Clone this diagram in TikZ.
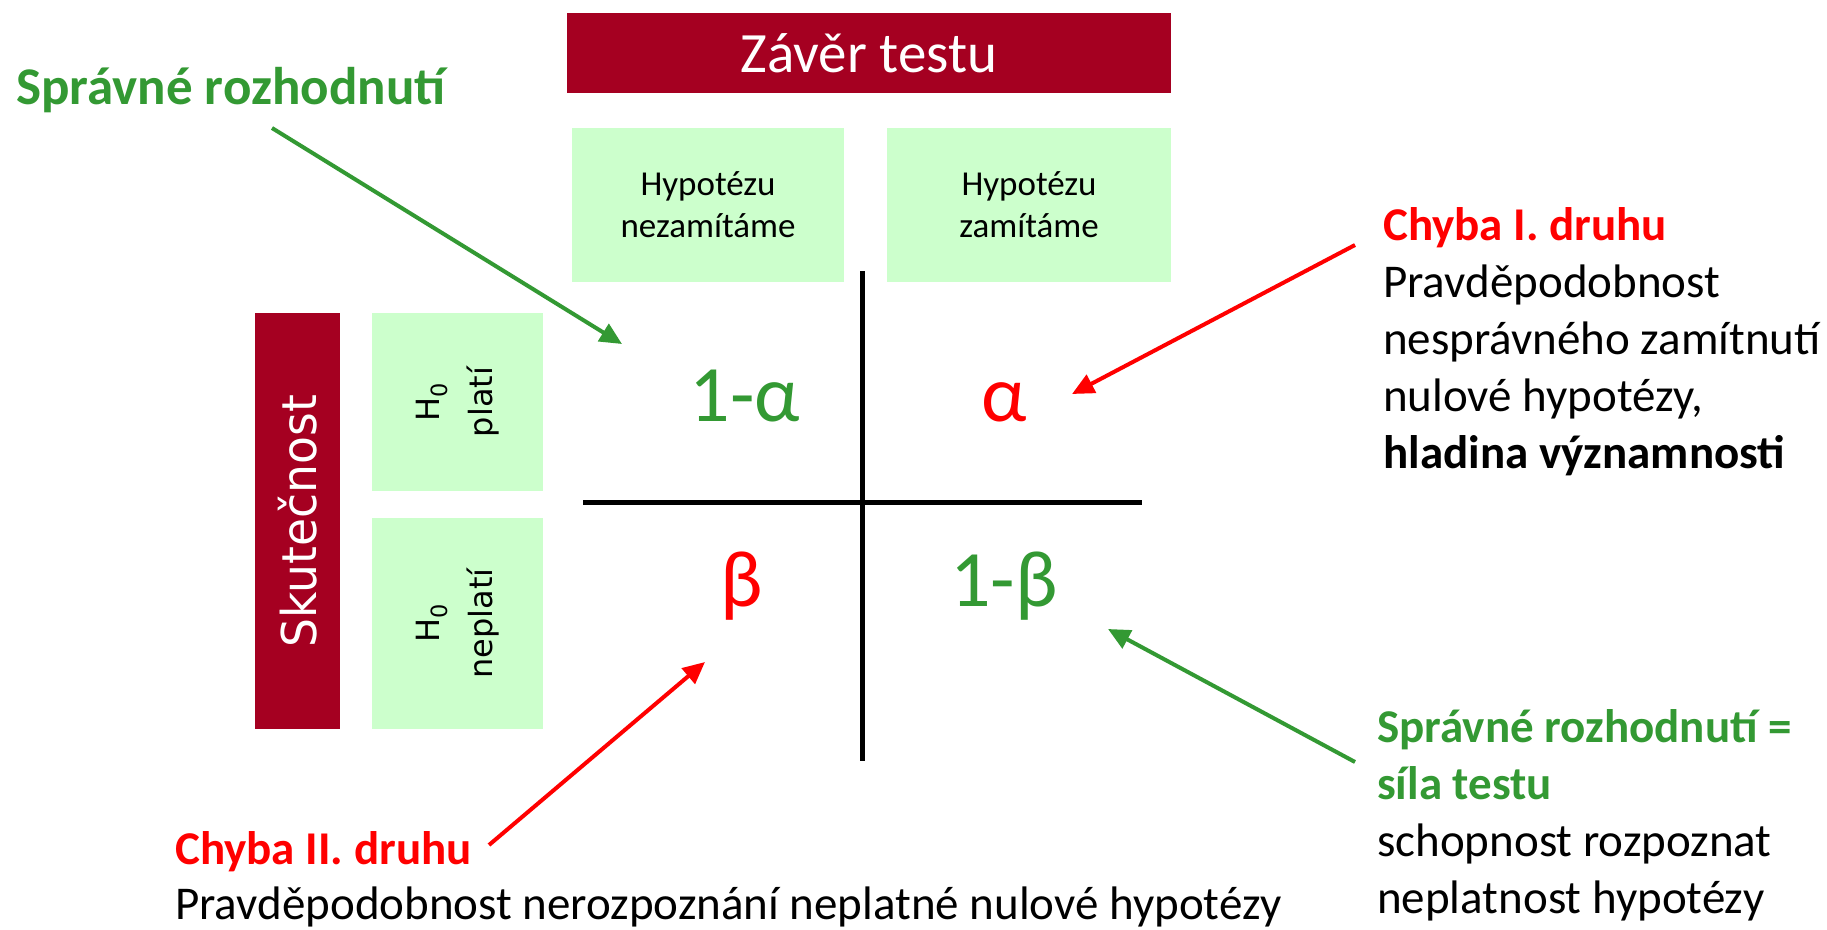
\documentclass[tikz,border=0pt]{standalone}
\usepackage{fontspec}
\setmainfont{Carlito}
\newfontfamily\dejavu{DejaVu Sans}
\usetikzlibrary{arrows.meta}
\definecolor{boxred}{HTML}{A50021}
\definecolor{boxgreen}{HTML}{CCFFCC}
\definecolor{txtgreen}{HTML}{339933}
\definecolor{txtred}{HTML}{FF0000}
\begin{document}
\begin{tikzpicture}[x=1pt,y=-1pt,
  redbox/.style={fill=boxred,text=white,inner sep=0pt,outer sep=0pt},
  greenbox/.style={fill=boxgreen,text=black,inner sep=0pt,outer sep=0pt},
  axis/.style={line width=5pt,black},
  arr/.style={line width=4pt,-{Triangle[length=22pt,width=20pt]}},
  greek/.style={font={\fontsize{80}{96}\selectfont},inner sep=0pt,anchor=base},
  label/.style={inner sep=0pt,align=left,anchor=north west,font={\fontsize{47}{57}\selectfont}}
]
\useasboundingbox[fill=white] (0,0) rectangle (1827,929);

% title
\node[redbox,anchor=north west,minimum width=604pt,minimum height=80pt,
  font={\fontsize{57}{68}\selectfont}] (title) at (567,13) {Závěr testu};
% column headers
\node[greenbox,anchor=north west,minimum width=272pt,minimum height=154pt,align=center,
  font={\fontsize{35}{42}\selectfont}] (nezam) at (572,128) {Hypotézu\\nezamítáme};
\node[greenbox,anchor=north west,minimum width=284pt,minimum height=154pt,align=center,
  font={\fontsize{35}{42}\selectfont}] (zam) at (887,128) {Hypotézu\\zamítáme};
% row headers
\node[redbox,rotate=90,minimum width=416pt,minimum height=85pt,
  font={\dejavu\fontsize{48}{58}\selectfont}] (skut) at (297.5,521) {\scalebox{0.95}[1]{Skutečnost}};
\node[greenbox,rotate=90,minimum width=178pt,minimum height=171pt,align=center,
  font={\dejavu\fontsize{32}{53}\selectfont}] (plati) at (457.5,402) {H\textsubscript{0}\\platí};
\node[greenbox,rotate=90,minimum width=211pt,minimum height=171pt,align=center,
  font={\dejavu\fontsize{32}{53}\selectfont}] (neplati) at (457.5,623.5) {H\textsubscript{0}\\neplatí};

% cross
\coordinate (vtop) at (862,271);
\coordinate (vbot) at (862,761);
\coordinate (hl) at (583,502);
\coordinate (hr) at (1142,502);
\draw[axis] (vtop) -- (vbot);
\draw[axis] (hl) -- (hr);

% cell values
\node[greek,text=txtgreen] (c11) at (745,421) {1-α};
\node[greek,text=txtred] (c12) at (1004,421) {α};
\node[greek,text=txtred] (c21) at (742,606) {β};
\node[greek,text=txtgreen] (c22) at (1004,606) {1-β};

% labels
\node[inner sep=0pt,anchor=base west,text=txtgreen,font={\fontsize{53}{63}\selectfont\bfseries}]
  (sr1) at (16,104) {Správné rozhodnutí};
\node[label] (ch1) at (1383,207)
  {\textcolor{txtred}{\bfseries Chyba I. druhu}\\Pravděpodobnost\\nesprávného zamítnutí\\nulové hypotézy,\\\textbf{hladina významnosti}};
\node[label] (sr2) at (1377,709)
  {\textcolor{txtgreen}{\bfseries Správné rozhodnutí =}\\\textcolor{txtgreen}{\bfseries síla testu}\\schopnost rozpoznat\\neplatnost hypotézy};
\node[label,font={\fontsize{47}{55}\selectfont}] (ch2) at (175,831)
  {\textcolor{txtred}{\bfseries Chyba II. druhu}\\Pravděpodobnost nerozpoznání neplatné nulové hypotézy};

% arrows
\coordinate (a1s) at (272,128);
\coordinate (a1e) at (622,344);
\coordinate (a2s) at (1355,245);
\coordinate (a2e) at (1072,394);
\coordinate (a3s) at (489,845);
\coordinate (a3e) at (705,662);
\coordinate (a4s) at (1355,762);
\coordinate (a4e) at (1108,629);
\draw[arr,txtgreen] (a1s) -- (a1e);
\draw[arr,txtred] (a2s) -- (a2e);
\draw[arr,txtred] (a3s) -- (a3e);
\draw[arr,txtgreen] (a4s) -- (a4e);
\end{tikzpicture}
\end{document}
